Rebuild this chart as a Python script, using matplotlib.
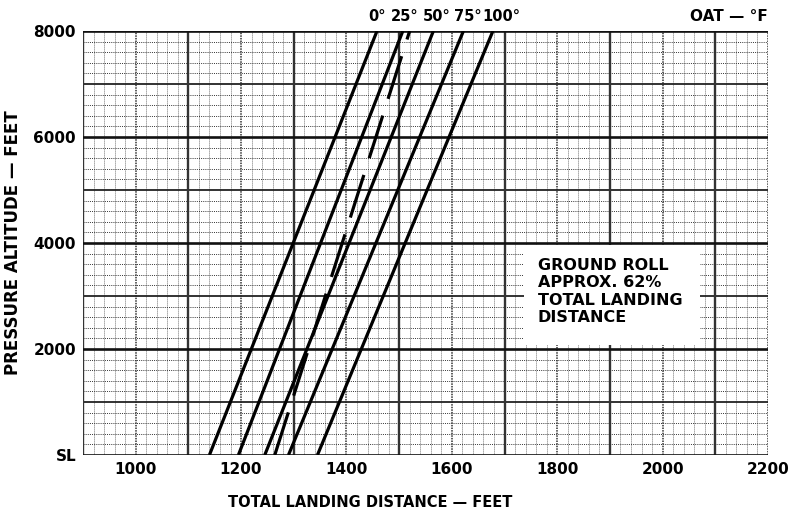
import matplotlib
matplotlib.use("Agg")
import matplotlib.pyplot as plt
from matplotlib.patches import Rectangle
import numpy as np

plt.rcParams['font.family'] = ['DejaVu Sans']
plt.rcParams['font.weight'] = 'bold'

# outside air temperature lines, distance at sea level and at 8000 ft
oat_labels = ['0°', '25°', '50°', '75°', '100°']
dist_sl = [1140, 1195, 1245, 1290, 1345]
dist_8000 = [1458, 1507, 1565, 1622, 1678]
altitudes = [0, 8000]

# standard atmosphere line (dashed)
std_dist = [1264, 1520]

x_ticks = [1000, 1200, 1400, 1600, 1800, 2000, 2200]
y_ticks = [0, 2000, 4000, 6000, 8000]
y_ticklabels = ['SL', '2000', '4000', '6000', '8000']

note = "GROUND ROLL\nAPPROX. 62%\nTOTAL LANDING\nDISTANCE"

fig = plt.figure(figsize=(7.88, 5.14), dpi=100)
ax = fig.add_axes([0.1053, 0.1148, 0.8693, 0.8249])
ax.set_xlim(900, 2200)
ax.set_ylim(0, 8000)

# graph paper grid
for x in np.arange(900, 2201, 20):
    if x % 100 == 0:
        continue
    ax.axvline(x, color='#444444', lw=0.6, ls=(0, (1, 1.4)), zorder=1)
for y in np.arange(0, 8001, 200):
    if y % 1000 == 0:
        continue
    ax.axhline(y, color='#333333', lw=0.7, ls=(0, (1, 1.2)), zorder=1)
for x in np.arange(900, 2201, 100):
    if x % 200 == 100:
        ax.axvline(x, color='#333333', lw=1.7, zorder=1.2)
    else:
        ax.axvline(x, color='#333333', lw=1.1, ls=(0, (1, 0.7)), zorder=1.1)
for y in np.arange(0, 8001, 1000):
    if y % 2000 == 0:
        ax.axhline(y, color='#111111', lw=1.9, zorder=1.2)
    else:
        ax.axhline(y, color='#222222', lw=1.3, zorder=1.1)

# note box
ax.add_patch(Rectangle((1737, 2075), 334, 1890, facecolor='white',
                       edgecolor='none', zorder=2))
ax.text(1763, 3720, note, fontsize=11.5, fontweight='bold', va='top',
        ha='left', linespacing=1.2, zorder=3)

for sl, top in zip(dist_sl, dist_8000):
    ax.plot([sl, top], altitudes, color='black', lw=2.3,
            solid_capstyle='butt', zorder=4)

# temperature labels along the top edge
label_x = [1458, 1511, 1572, 1631, 1694]
for lx, lab in zip(label_x, oat_labels):
    ax.annotate(lab, (lx, 8000), xytext=(0, 5), textcoords='offset points',
                ha='center', va='bottom', fontsize=10.5, fontweight='bold',
                annotation_clip=False)

ax.plot(std_dist, altitudes, color='black', lw=2.3, ls=(0, (14, 5.5)),
        zorder=4)

ax.annotate('OAT — °F', (1, 1), xycoords='axes fraction', xytext=(0, 5),
            textcoords='offset points', ha='right', va='bottom',
            fontsize=11, fontweight='bold', annotation_clip=False)

ax.set_xticks(x_ticks)
ax.set_xticklabels([str(v) for v in x_ticks], fontsize=11, fontweight='bold')
ax.set_yticks(y_ticks)
ax.set_yticklabels(y_ticklabels, fontsize=11, fontweight='bold')
ax.tick_params(length=0, pad=5)

ax.set_xlabel('TOTAL LANDING DISTANCE — FEET', fontsize=10.5,
              fontweight='bold')
ax.xaxis.set_label_coords(0.42, -0.095)
ax.set_ylabel('PRESSURE ALTITUDE — FEET', fontsize=12,
              fontweight='bold', labelpad=8)

for s in ax.spines.values():
    s.set_visible(False)

fig.savefig('out.png', dpi=100)
